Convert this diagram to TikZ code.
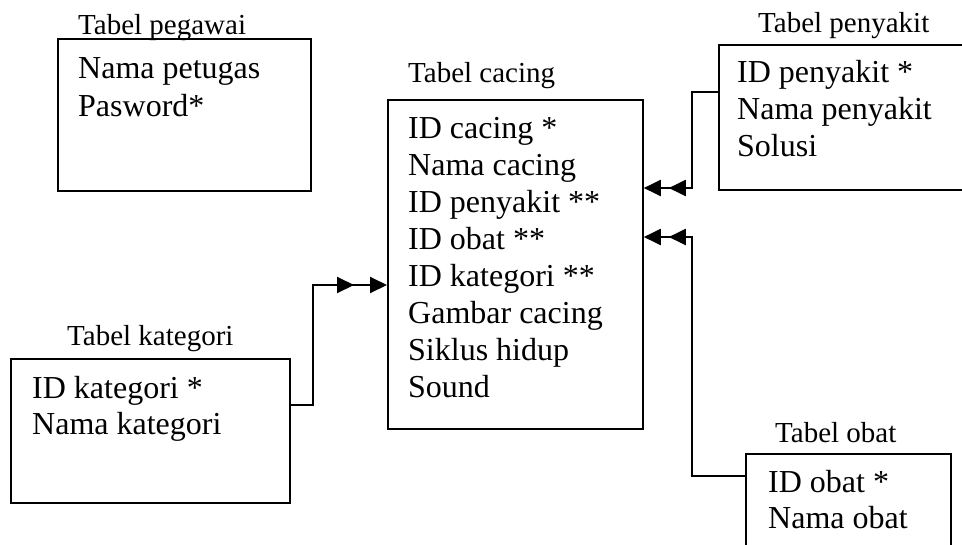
\documentclass[tikz,border=0pt]{standalone}
\usepackage{fontspec}
\setmainfont{Liberation Serif}
\usetikzlibrary{arrows.meta}
\begin{document}
\begin{tikzpicture}[x=1pt,y=-1pt,
  tbl/.style={draw, line width=1.8pt, anchor=north west, inner sep=0pt, rectangle},
  conn/.style={line width=2pt},
  twohead/.style={-{Triangle[length=17pt,width=16pt,sep=#1] Triangle[length=17pt,width=16pt]}},
  field/.style={anchor=base west, inner sep=0pt, font=\fontsize{32}{36}\selectfont},
  ttl/.style={anchor=base west, inner sep=0pt, font=\fontsize{29}{33}\selectfont}]
\useasboundingbox (0,0) rectangle (962,544);
\clip (0,0) rectangle (962,544);

% table boxes
\node[tbl, minimum width=253pt, minimum height=152pt] (peg) at (57,38) {};
\node[tbl, minimum width=255pt, minimum height=329pt] (cac) at (387,99) {};
\node[tbl, minimum width=257pt, minimum height=145pt] (pen) at (718,44) {};
\node[tbl, minimum width=279pt, minimum height=144pt] (kat) at (10,358) {};
\node[tbl, minimum width=205pt, minimum height=110pt] (obt) at (745,453) {};

% Tabel pegawai
\node[ttl] (pegT) at (78,34) {Tabel pegawai};
\node[field] (peg1) at (78,78) {Nama petugas};
\node[field] (peg2) at (78,116) {Pasword*};

% Tabel cacing
\node[ttl] (cacT) at (408,82) {Tabel cacing};
\node[field] (cac1) at (408,138) {ID cacing *};
\node[field] (cac2) at (408,175) {Nama cacing};
\node[field] (cac3) at (408,212) {ID penyakit **};
\node[field] (cac4) at (408,249) {ID obat **};
\node[field] (cac5) at (408,286) {ID kategori **};
\node[field] (cac6) at (408,323) {Gambar cacing};
\node[field] (cac7) at (408,360) {Siklus hidup};
\node[field] (cac8) at (408,397) {Sound};

% Tabel penyakit
\node[ttl] (penT) at (758,32) {Tabel penyakit};
\node[field] (pen1) at (737,82) {ID penyakit *};
\node[field] (pen2) at (737,119) {Nama penyakit};
\node[field] (pen3) at (737,156) {Solusi};

% Tabel kategori
\node[ttl] (katT) at (67,345) {Tabel kategori};
\node[field] (kat1) at (32,398) {ID kategori *};
\node[field] (kat2) at (32,434) {Nama kategori};

% Tabel obat
\node[ttl] (obtT) at (775,442) {Tabel obat};
\node[field] (obt1) at (768,492) {ID obat *};
\node[field] (obt2) at (768,528) {Nama obat};

% relations
\draw[conn, twohead=8pt] ([yshift=-48pt]pen.north west) -| (692,188) -- ([yshift=-89pt]cac.north east);
\draw[conn, twohead=8pt] ([yshift=-23pt]obt.north west) -| (692,237) -- ([yshift=-138pt]cac.north east);
\draw[conn, twohead=16pt] ([yshift=-47pt]kat.north east) -| (313,285) -- ([yshift=-186pt]cac.north west);
\end{tikzpicture}
\end{document}
